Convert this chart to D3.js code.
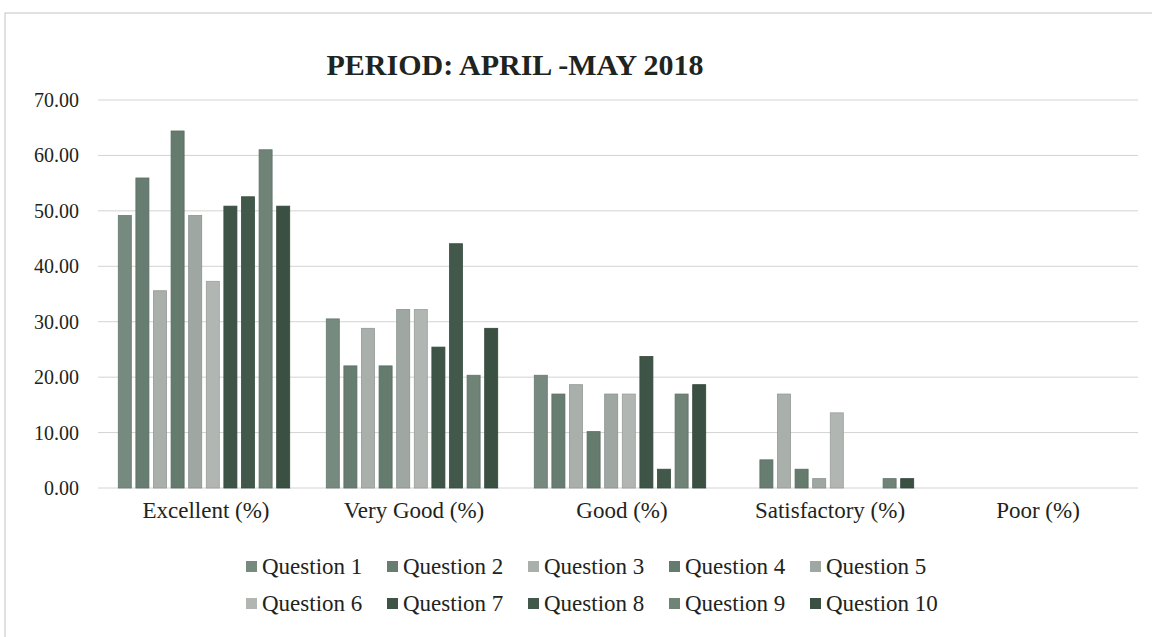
<!DOCTYPE html>
<html lang="en">
  <head>
    <meta charset="utf-8" />
    <style>
      body {
        margin: 0;
        background: #fff;
      }
      svg text {
        font-family: "Liberation Serif", "Times New Roman", serif;
        fill: #1e2420;
      }
    </style>
  </head>
  <body>
    <svg id="chart" width="1152" height="637"></svg>
    <script src="https://d3js.org/d3.v7.min.js"></script>
    <script>
      const categories = [
        "Excellent (%)",
        "Very Good (%)",
        "Good (%)",
        "Satisfactory (%)",
        "Poor (%)"
      ];
      const series = [
        "Question 1",
        "Question 2",
        "Question 3",
        "Question 4",
        "Question 5",
        "Question 6",
        "Question 7",
        "Question 8",
        "Question 9",
        "Question 10"
      ];
      // one row per question, one value per category
      const q1 = [49.15, 30.51, 20.34, 0.0, 0.0];
      const q2 = [55.93, 22.03, 16.95, 5.08, 0.0];
      const q3 = [35.59, 28.81, 18.64, 16.95, 0.0];
      const q4 = [64.41, 22.03, 10.17, 3.39, 0.0];
      const q5 = [49.15, 32.2, 16.95, 1.69, 0.0];
      const q6 = [37.29, 32.2, 16.95, 13.56, 0.0];
      const q7 = [50.85, 25.42, 23.73, 0.0, 0.0];
      const q8 = [52.54, 44.07, 3.39, 0.0, 0.0];
      const q9 = [61.02, 20.34, 16.95, 1.69, 0.0];
      const q10 = [50.85, 28.81, 18.64, 1.69, 0.0];
      const values = [q1, q2, q3, q4, q5, q6, q7, q8, q9, q10];
      const yTicks = [0, 10, 20, 30, 40, 50, 60, 70];
      const colors = [
        "#778a7f",
        "#687d71",
        "#a9afab",
        "#657b6e",
        "#9ea7a1",
        "#b1b6b3",
        "#3e5447",
        "#42584b",
        "#6f8377",
        "#3a5043"
      ];

      const svg = d3.select("#chart");
      const plotLeft = 100;
      const plotRight = 1140;
      const plotTop = 100;
      const plotBottom = 488;

      // chart frame (only top and left edges fall inside the picture)
      svg
        .append("rect")
        .attr("x", 5)
        .attr("y", 13)
        .attr("width", 1200)
        .attr("height", 700)
        .attr("fill", "none")
        .attr("stroke", "#c4c4c4")
        .attr("stroke-width", 1);

      const x0 = d3
        .scaleBand()
        .domain(categories)
        .range([plotLeft, plotRight])
        .paddingInner(0)
        .paddingOuter(0);
      const x1 = d3
        .scaleBand()
        .domain(series)
        .range([16, x0.bandwidth() - 16])
        .paddingInner(0.26)
        .paddingOuter(0.13);
      const y = d3
        .scaleLinear()
        .domain([0, 70])
        .range([plotBottom, plotTop]);

      // gridlines
      svg
        .append("g")
        .selectAll("line")
        .data(yTicks)
        .join("line")
        .attr("x1", plotLeft - 2)
        .attr("x2", plotRight - 2)
        .attr("y1", d => y(d))
        .attr("y2", d => y(d))
        .attr("stroke", "#d2d4d2")
        .attr("stroke-width", 1);

      // y axis labels
      svg
        .append("g")
        .selectAll("text")
        .data(yTicks)
        .join("text")
        .attr("x", 79)
        .attr("y", d => y(d) + 7)
        .attr("text-anchor", "end")
        .attr("font-size", 20)
        .text(d => d3.format(".2f")(d));

      // bars
      const groups = svg
        .append("g")
        .selectAll("g")
        .data(categories)
        .join("g")
        .attr("transform", d => `translate(${x0(d)},0)`);

      groups
        .selectAll("rect")
        .data((c, ci) =>
          series
            .map((s, si) => ({ s, si, v: values[si][ci] }))
            .filter(d => d.v > 0)
        )
        .join("rect")
        .attr("x", d => x1(d.s))
        .attr("width", x1.bandwidth())
        .attr("y", d => y(d.v))
        .attr("height", d => y(0) - y(d.v))
        .attr("fill", d => colors[d.si])
        .attr("stroke", d => d3.color(colors[d.si]).darker(0.4))
        .attr("stroke-width", 0.8);

      // category labels
      svg
        .append("g")
        .selectAll("text")
        .data(categories)
        .join("text")
        .attr("x", d => x0(d) + x0.bandwidth() / 2 + 2)
        .attr("y", 518)
        .attr("text-anchor", "middle")
        .attr("font-size", 23)
        .text(d => d);

      // title
      svg
        .append("text")
        .attr("x", 515)
        .attr("y", 75)
        .attr("text-anchor", "middle")
        .attr("font-size", 30)
        .attr("font-weight", "bold")
        .text("PERIOD: APRIL -MAY 2018");

      // legend, two rows of five
      const legend = svg
        .append("g")
        .selectAll("g")
        .data(series)
        .join("g")
        .attr("transform", (d, i) => {
          const col = i % 5;
          const row = Math.floor(i / 5);
          return `translate(${246 + col * 141},${574 + row * 37})`;
        });

      legend
        .append("rect")
        .attr("x", 0)
        .attr("y", -13)
        .attr("width", 11)
        .attr("height", 11)
        .attr("fill", (d, i) => colors[i]);

      legend
        .append("text")
        .attr("x", 16)
        .attr("y", 0)
        .attr("font-size", 23)
        .text(d => d);
    </script>
  </body>
</html>
